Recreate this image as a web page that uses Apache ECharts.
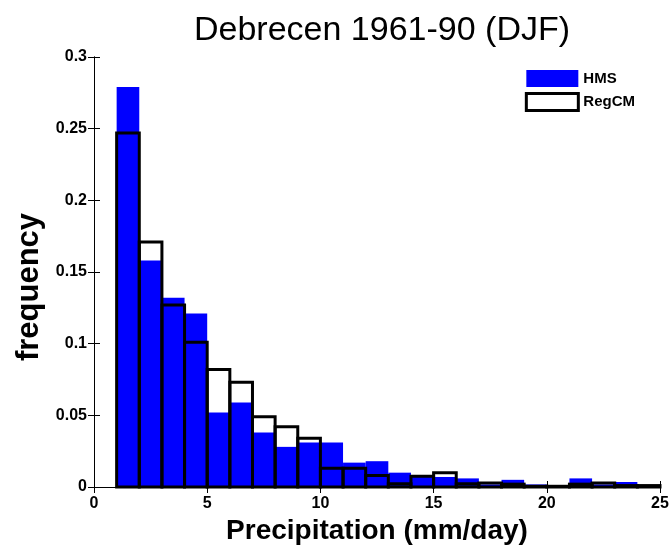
<!DOCTYPE html>
<html>
<head>
<meta charset="utf-8">
<script src="https://cdn.jsdelivr.net/npm/echarts@6/dist/echarts.min.js"></script>
<style>html,body{margin:0;padding:0;background:#fff}#c{width:672px;height:550px}</style>
</head>
<body>
<div id="c"></div>
<script>
var binEdges = [1,2,3,4,5,6,7,8,9,10,11,12,13,14,15,16,17,18,19,20,21,22,23,24,25];
var hmsValues = [0.279, 0.158, 0.132, 0.121, 0.052, 0.059, 0.038, 0.028, 0.031, 0.031, 0.017, 0.018, 0.010, 0.008, 0.007, 0.006, 0.0018, 0.005, 0.0018, 0.0005, 0.006, 0.0018, 0.0035, 0.001];
var regcmValues = [0.247, 0.171, 0.127, 0.101, 0.082, 0.073, 0.049, 0.042, 0.034, 0.013, 0.013, 0.008, 0.0023, 0.0075, 0.010, 0.0023, 0.0028, 0.002, 0.0005, 0.0005, 0.002, 0.0028, 0.001, 0.001];
var xTicks = [0, 5, 10, 15, 20, 25];
var yTicks = [0, 0.05, 0.1, 0.15, 0.2, 0.25, 0.3];

function toData(vals) {
  return vals.map(function (v, i) { return [binEdges[i], binEdges[i + 1], v]; });
}

var FONT = '"Liberation Sans", Arial, sans-serif';

function makeRender(isOutline) {
  return function (params, api) {
    var p0 = api.coord([api.value(0), api.value(2)]);
    var p1 = api.coord([api.value(1), 0]);
    var shape = { x: p0[0], y: p0[1], width: p1[0] - p0[0], height: p1[1] - p0[1] };
    if (isOutline) {
      return { type: 'rect', shape: shape, style: { fill: 'none', stroke: '#000', lineWidth: 3 } };
    }
    return { type: 'rect', shape: shape, style: { fill: '#0000ff', stroke: null } };
  };
}

var chart = echarts.init(document.getElementById('c'), null, { renderer: 'canvas' });
var axisLabelStyle = { color: '#000', fontFamily: FONT, fontWeight: 'bold', fontSize: 16 };
chart.setOption({
  animation: false,
  title: {
    text: 'Debrecen 1961-90 (DJF)', left: 377, textAlign: 'center', top: 9,
    textStyle: { fontFamily: FONT, fontWeight: 'normal', fontSize: 34, color: '#000' }
  },
  legend: {
    orient: 'vertical', right: 32, top: 65, itemWidth: 52, itemHeight: 17, itemGap: 5,
    textStyle: { fontFamily: FONT, fontWeight: 'bold', fontSize: 15, color: '#000' },
    data: [
      { name: 'HMS', icon: 'rect', itemStyle: { color: '#0000ff', borderWidth: 0 } },
      { name: 'RegCM', icon: 'rect', itemStyle: { color: '#fff', borderColor: '#000', borderWidth: 3 } }
    ]
  },
  grid: { left: 94, right: 12, top: 57, bottom: 60, show: false },
  xAxis: [{
    type: 'value', min: xTicks[0], max: xTicks[xTicks.length - 1], interval: 5,
    name: 'Precipitation (mm/day)', nameLocation: 'middle', nameGap: 30,
    nameTextStyle: { fontFamily: FONT, fontWeight: 'bold', fontSize: 28, color: '#000' },
    axisLine: { show: true, onZero: false, lineStyle: { color: '#000', width: 1 } },
    axisTick: { show: true, inside: true, length: 6, lineStyle: { color: '#000' } },
    axisLabel: Object.assign({ margin: 9 }, axisLabelStyle),
    splitLine: { show: false }
  }, {
    type: 'value', position: 'top', min: xTicks[0], max: xTicks[xTicks.length - 1], interval: 5,
    axisLine: { show: true, lineStyle: { color: '#000', width: 1 } },
    axisTick: { show: true, inside: true, length: 6, lineStyle: { color: '#000' } },
    axisLabel: { show: false }, splitLine: { show: false }
  }],
  yAxis: [{
    type: 'value', min: yTicks[0], max: yTicks[yTicks.length - 1], interval: 0.05,
    name: 'frequency', nameLocation: 'middle', nameGap: 47, nameRotate: 90,
    nameTextStyle: { fontFamily: FONT, fontWeight: 'bold', fontSize: 31, color: '#000', padding: [0, 30, 0, 0] },
    axisLine: { show: true, onZero: false, lineStyle: { color: '#000', width: 1 } },
    axisTick: { show: true, inside: true, length: 6, lineStyle: { color: '#000' } },
    axisLabel: Object.assign({ margin: 7 }, axisLabelStyle),
    splitLine: { show: false }
  }, {
    type: 'value', position: 'right', min: yTicks[0], max: yTicks[yTicks.length - 1], interval: 0.05,
    axisLine: { show: true, lineStyle: { color: '#000', width: 1 } },
    axisTick: { show: true, inside: true, length: 6, lineStyle: { color: '#000' } },
    axisLabel: { show: false }, splitLine: { show: false }
  }],
  series: [{
    name: 'HMS', type: 'custom', renderItem: makeRender(false),
    encode: { x: [0, 1], y: 2 }, data: toData(hmsValues), z: 2
  }, {
    name: 'RegCM', type: 'custom', renderItem: makeRender(true),
    encode: { x: [0, 1], y: 2 }, data: toData(regcmValues), z: 3
  }]
});
</script>
</body>
</html>
